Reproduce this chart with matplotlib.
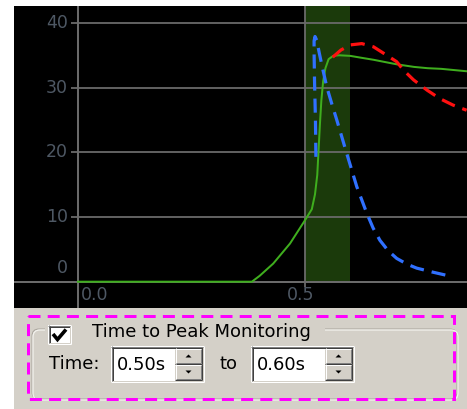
import matplotlib
matplotlib.use("Agg")
import matplotlib.pyplot as plt
from matplotlib.patches import Rectangle, FancyBboxPatch, Polygon

# ---- data -------------------------------------------------------------
y_ticks = [0, 10, 20, 30, 40]
y_tick_labels = ["0", "10", "20", "30", "40"]
x_ticks = [0.0, 0.5]
x_tick_labels = ["0.0", "0.5"]

window_start = 0.50
window_end = 0.60

green_t = [0.0, 0.383, 0.40, 0.43, 0.467, 0.50, 0.515, 0.522, 0.527, 0.530,
           0.533, 0.536, 0.540, 0.545, 0.552, 0.562, 0.575, 0.60, 0.625,
           0.651, 0.68, 0.702, 0.74, 0.77, 0.80, 0.83, 0.86]
green_v = [0.0, 0.0, 0.9, 2.8, 5.9, 9.5, 11.2, 13.5, 16.5, 20.5,
           24.5, 28.0, 31.0, 33.0, 34.4, 34.9, 35.0, 34.9, 34.6,
           34.3, 33.9, 33.6, 33.2, 33.0, 32.9, 32.7, 32.5]

blue_t = [0.524, 0.523, 0.521, 0.520, 0.520, 0.522, 0.526, 0.531, 0.537,
          0.548, 0.559, 0.570, 0.592, 0.614, 0.636, 0.650, 0.665, 0.683,
          0.702, 0.725, 0.746, 0.78, 0.811]
blue_v = [19.3, 25.0, 31.0, 35.5, 37.2, 37.9, 37.3, 35.5, 33.5,
          30.1, 27.5, 25.0, 19.8, 14.7, 10.6, 8.3, 6.4, 4.8,
          3.6, 2.7, 2.1, 1.5, 1.0]

red_t = [0.561, 0.579, 0.600, 0.625, 0.651, 0.680, 0.702, 0.717, 0.739,
         0.769, 0.797, 0.826, 0.856]
red_v = [34.7, 35.8, 36.6, 36.8, 36.3, 35.0, 34.0, 32.7, 31.2,
         29.6, 28.3, 27.3, 26.5]

panel_title = "Time to Peak Monitoring"
time_label = "Time:"
to_label = "to"
from_text = "0.50s"
to_text = "0.60s"

# ---- figure -----------------------------------------------------------
W, H = 467, 409
PX = 0.72  # one pixel in points at 100 dpi
fig = plt.figure(figsize=(W / 100, H / 100), dpi=100)
fig.patch.set_facecolor("white")

ui = fig.add_axes([0, 0, 1, 1])
ui.set_xlim(0, W)
ui.set_ylim(H, 0)
ui.axis("off")

# chart area (pixel box)
CL, CR, CT, CB = 14, 467, 6, 308
X0, XS = 78, 454.0      # pixel of t=0, pixels per unit
Y0, YS = 281.7, 6.47    # pixel of v=0, pixels per unit


def xd(px):
    return (px - X0) / XS


def yd(py):
    return (Y0 - py) / YS


ax = fig.add_axes([CL / W, (H - CB) / H, (CR - CL) / W, (CB - CT) / H])
ax.set_facecolor("black")
ax.set_xlim(xd(CL), xd(CR))
ax.set_ylim(yd(CB), yd(CT))
for s in ax.spines.values():
    s.set_visible(False)
ax.set_xticks([])
ax.set_yticks([])

grid_c = "#6a6a6a"
tick_c = "#4e5864"

# monitoring window
ax.fill_between([window_start, window_end], 0, yd(CT), color="#1b3a0b",
                zorder=1, linewidth=0)

# grid / axes lines
for v in y_ticks:
    if v == 0:
        ax.plot([xd(CL), xd(CR)], [v, v], color=grid_c, lw=2 * PX, zorder=2)
    else:
        ax.plot([xd(72), xd(CR)], [v, v], color=grid_c, lw=2 * PX, zorder=2,
                alpha=0.9)
ax.plot([0, 0], [yd(CB), yd(CT)], color=grid_c, lw=2 * PX, zorder=2)
for t in x_ticks[1:]:
    ax.plot([t, t], [yd(286), yd(CT)], color=grid_c, lw=2 * PX, zorder=2,
            alpha=0.9)

# tick labels
for v, lab in zip(y_ticks, y_tick_labels):
    yy = v if v != 0 else yd(268)
    ax.text(xd(68), yy, lab, ha="right", va="center", color=tick_c,
            fontsize=12.5, family="DejaVu Sans")
ax.text(xd(81), yd(295), x_tick_labels[0], ha="left", va="center",
        color=tick_c, fontsize=12.5, family="DejaVu Sans")
ax.text(xd(301), yd(295), x_tick_labels[1], ha="center", va="center",
        color=tick_c, fontsize=12.5, family="DejaVu Sans")

# curves
ax.plot(green_t, green_v, color="#3fae1e", lw=2 * PX, zorder=4,
        solid_joinstyle="round")
ax.plot(blue_t, blue_v, color="#3070ff", lw=3.2 * PX, zorder=5,
        dashes=(4.4, 2.5), solid_capstyle="butt")
ax.plot(red_t, red_v, color="#ff1010", lw=3.2 * PX, zorder=5,
        dashes=(4.4, 2.5))

# ---- control panel ----------------------------------------------------
BG = "#d4d0c8"
ui.add_patch(Rectangle((14, 308), W - 14, H - 308, facecolor=BG,
                       edgecolor="none", zorder=0))

# group box
ui.add_patch(FancyBboxPatch((32, 329), 425, 70,
                            boxstyle="round,pad=0,rounding_size=7",
                            facecolor="none", edgecolor="#a9a59d",
                            lw=1 * PX, zorder=1))
ui.add_patch(FancyBboxPatch((33, 330), 425, 70,
                            boxstyle="round,pad=0,rounding_size=7",
                            facecolor="none", edgecolor="#f4f3ef",
                            lw=1.2 * PX, zorder=1))
ui.add_patch(Rectangle((45, 322), 280, 16, facecolor=BG, edgecolor="none",
                       zorder=2))


def hline(x0, x1, y, c, w=1):
    ui.plot([x0, x1], [y, y], color=c, lw=w * PX, zorder=4,
            solid_capstyle="butt")


def vline(x, y0, y1, c, w=1):
    ui.plot([x, x], [y0, y1], color=c, lw=w * PX, zorder=4,
            solid_capstyle="butt")


def sunken(x0, y0, x1, y1, face="white"):
    ui.add_patch(Rectangle((x0, y0), x1 - x0, y1 - y0, facecolor=face,
                           edgecolor="none", zorder=3))
    hline(x0, x1, y0 + 0.5, "#808080")
    vline(x0 + 0.5, y0, y1, "#808080")
    hline(x0 + 1, x1 - 1, y0 + 1.5, "#404040")
    vline(x0 + 1.5, y0 + 1, y1 - 1, "#404040")
    hline(x0, x1, y1 - 0.5, "#ffffff")
    vline(x1 - 0.5, y0, y1, "#ffffff")
    hline(x0 + 1, x1 - 1, y1 - 1.5, BG)
    vline(x1 - 1.5, y0 + 1, y1 - 1, BG)


def raised(x0, y0, x1, y1):
    ui.add_patch(Rectangle((x0, y0), x1 - x0, y1 - y0, facecolor=BG,
                           edgecolor="none", zorder=3))
    hline(x0, x1, y0 + 0.5, "#ffffff")
    vline(x0 + 0.5, y0, y1, "#ffffff")
    hline(x0, x1, y1 - 0.5, "#404040")
    vline(x1 - 0.5, y0, y1, "#404040")
    hline(x0 + 1, x1 - 1, y1 - 1.5, "#808080")
    vline(x1 - 1.5, y0 + 1, y1 - 1, "#808080")


def arrow(cx, cy, up):
    d = -1 if up else 1
    ui.add_patch(Polygon([(cx - 3, cy - 1.5 * d), (cx + 3, cy - 1.5 * d),
                          (cx, cy + 1.5 * d)], closed=True,
                         facecolor="black", edgecolor="none", zorder=5))


def spinbox(x0, x1, xb, y0, y1, text):
    sunken(x0, y0, x1, y1)
    ym = (y0 + y1) / 2
    raised(xb, y0 + 2, x1 - 2, ym)
    raised(xb, ym, x1 - 2, y1 - 2)
    cx = (xb + x1 - 2) / 2
    arrow(cx, (y0 + 2 + ym) / 2, True)
    arrow(cx, (ym + y1 - 2) / 2, False)
    ui.text(x0 + 6, ym + 0.5, text, ha="left", va="center", fontsize=13,
            family="DejaVu Sans", color="black", zorder=6)


# checkbox
sunken(48, 325, 71, 344)
ui.plot([53, 57.5, 66], [334, 339.5, 329.5], color="black", lw=3.6 * PX,
        zorder=6, solid_joinstyle="miter", solid_capstyle="butt")
ui.text(92, 332, panel_title, ha="left", va="center", fontsize=13,
        family="DejaVu Sans", color="black", zorder=6)

ui.text(49, 364, time_label, ha="left", va="center", fontsize=13,
        family="DejaVu Sans", color="black", zorder=6)
spinbox(111, 204, 175, 346, 382, from_text)
ui.text(220, 364, to_label, ha="left", va="center", fontsize=13,
        family="DejaVu Sans", color="black", zorder=6)
spinbox(251, 354, 325, 346, 382, to_text)

# dashed highlight frame
ui.add_patch(Rectangle((28, 316), 426, 83, facecolor="none",
                       edgecolor="#ff00ff", lw=3 * PX, zorder=7,
                       linestyle=(0, (4.0, 2.4))))

fig.savefig("out.png", dpi=100, facecolor=fig.get_facecolor())
